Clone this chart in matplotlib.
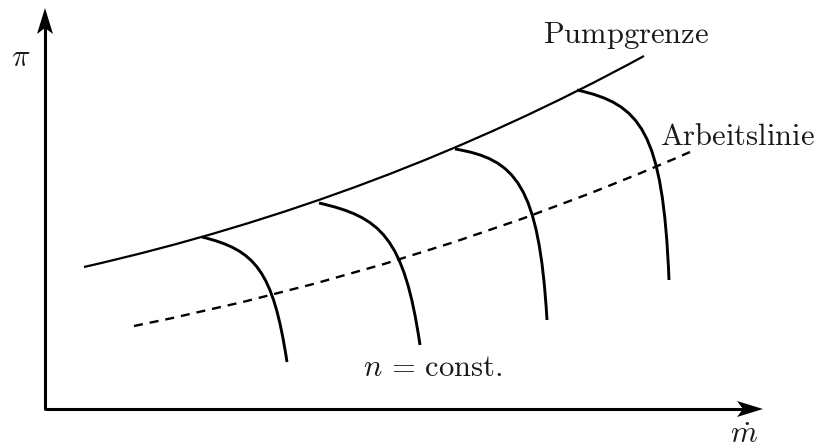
#!/usr/bin/env python3
"""Schematic compressor map: surge line, operating line and speed lines."""

import matplotlib

matplotlib.use("Agg")
import matplotlib.pyplot as plt
from matplotlib.patches import PathPatch, Polygon
from matplotlib.path import Path

plt.rcParams["mathtext.fontset"] = "cm"
plt.rcParams["lines.scale_dashes"] = False

# drawing works in a pixel-like frame, y grows downwards
ORIGIN = (45, 409)
X_TIP = (763, 409)
Y_TIP = (45, 8)

# surge line (quadratic bezier: start, control, end)
surge_line = [(84, 267), (380, 200), (644, 56)]
# operating line (quadratic bezier)
operating_line = [(134, 326), (428, 267), (690, 152)]
# constant speed lines (cubic bezier: start, c1, c2, end)
speed_lines = [
    [(202, 237), (255, 250), (273, 270), (287, 362)],
    [(319, 203), (380, 217), (404, 236), (420, 345)],
    [(455, 149), (515, 159), (539, 184), (547, 320)],
    [(577, 90), (640, 104), (663, 130), (669, 280)],
]

labels = {
    "pi": (r"$\pi$", (11, 66)),
    "mdot": (r"$\dot{m}$", (730, 443)),
    "surge": (r"$\mathrm{Pumpgrenze}$", (543, 43)),
    "operating": (r"$\mathrm{Arbeitslinie}$", (660, 145)),
    "speed": (r"$n\,=\,\mathrm{const.}$", (363, 376)),
}


def bezier(points):
    codes = [Path.MOVETO] + [Path.CURVE3 if len(points) == 3 else Path.CURVE4] * (len(points) - 1)
    return Path(points, codes)


def arrow_head(tip, direction, length=26, half_width=8, notch=6):
    dx, dy = direction
    px, py = -dy, dx
    tx, ty = tip
    bx, by = tx - dx * length, ty - dy * length
    return [
        (tx, ty),
        (bx + px * half_width, by + py * half_width),
        (tx - dx * (length - notch), ty - dy * (length - notch)),
        (bx - px * half_width, by - py * half_width),
    ]


fig = plt.figure(figsize=(8.16, 4.48), dpi=100)
ax = fig.add_axes([0, 0, 1, 1])
ax.set_xlim(0, 816)
ax.set_ylim(448, 0)
ax.axis("off")

# axes with arrow heads
ax.plot([ORIGIN[0], X_TIP[0] - 15], [ORIGIN[1], X_TIP[1]], color="black", lw=2.2, solid_capstyle="butt")
ax.plot([ORIGIN[0], Y_TIP[0]], [ORIGIN[1] + 1, Y_TIP[1] + 15], color="black", lw=2.2, solid_capstyle="butt")
ax.add_patch(Polygon(arrow_head(X_TIP, (1, 0)), closed=True, color="black", lw=0))
ax.add_patch(Polygon(arrow_head(Y_TIP, (0, -1)), closed=True, color="black", lw=0))

ax.add_patch(PathPatch(bezier(surge_line), fill=False, edgecolor="black", lw=1.6))
ax.add_patch(
    PathPatch(bezier(operating_line), fill=False, edgecolor="black", lw=1.7, linestyle=(0, (6.5, 5)))
)
for pts in speed_lines:
    ax.add_patch(PathPatch(bezier(pts), fill=False, edgecolor="black", lw=2.1, capstyle="butt"))

for text, (x, y) in labels.values():
    ax.text(x, y, text, fontsize=22, ha="left", va="baseline", color="#1a1a1a")

fig.savefig("out.png", dpi=100)
